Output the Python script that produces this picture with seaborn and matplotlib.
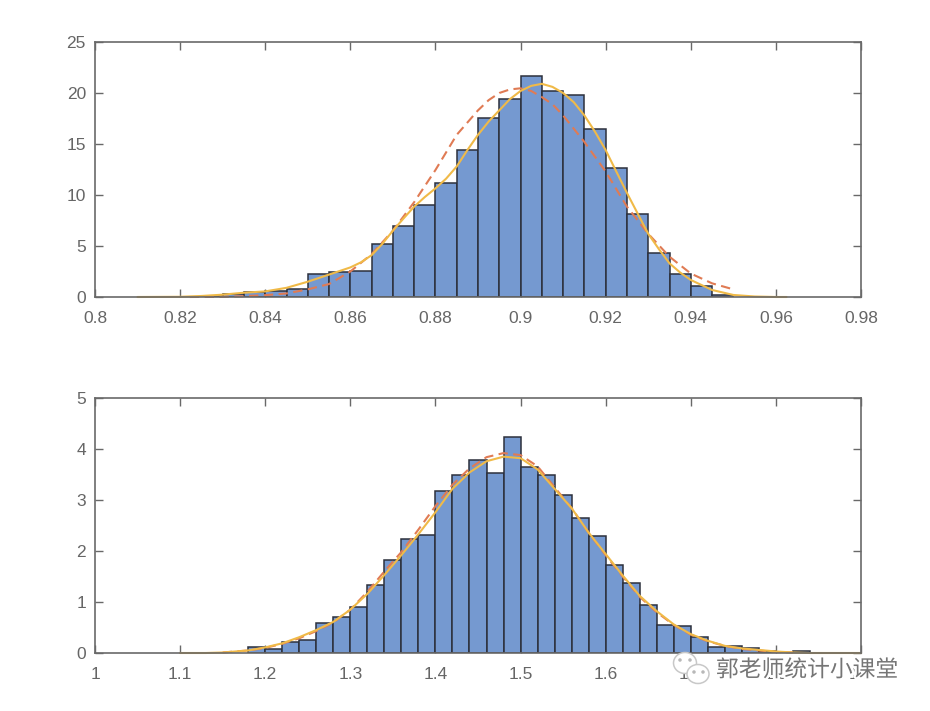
import matplotlib

matplotlib.use("Agg")
import matplotlib.pyplot as plt
import matplotlib.patheffects as pe
from matplotlib.patches import Ellipse
import numpy as np
import seaborn as sns

# --- Colours and sizes ---
BAR_COLOR = "#7599D0"
BAR_EDGE = "#2C303C"
DASH_COLOR = "#E07B54"
SOLID_COLOR = "#F0BA48"
AXIS_COLOR = "#696969"
TEXT_COLOR = "#666666"
TICK_FONTSIZE = 12.5

# Top panel: histogram
top_edges = [0.825, 0.83, 0.835, 0.84, 0.845, 0.85, 0.855, 0.86, 0.865, 0.87, 0.875, 0.88,
             0.885, 0.89, 0.895, 0.90, 0.905, 0.91, 0.915, 0.92, 0.925, 0.93, 0.935, 0.94,
             0.945, 0.95]
top_heights = [0.13, 0.33, 0.49, 0.62, 0.75, 2.22, 2.42, 2.55, 5.2, 6.96, 9.02, 11.2,
               14.44, 17.5, 19.44, 21.67, 20.16, 19.77, 16.47, 12.68, 8.1, 4.31, 2.25,
               1.05, 0.2]

# Top panel: curves
top_solid_x = [0.81, 0.82, 0.825, 0.83, 0.835, 0.84, 0.845, 0.85, 0.855, 0.86, 0.8625, 0.865,
               0.8675, 0.87, 0.8725, 0.875, 0.8775, 0.88, 0.8825, 0.885, 0.8875, 0.89, 0.8925,
               0.895, 0.8975, 0.90, 0.9025, 0.905, 0.9075, 0.91, 0.9125, 0.915, 0.9175, 0.92,
               0.9225, 0.925, 0.9275, 0.93, 0.9325, 0.935, 0.9375, 0.94, 0.945, 0.95, 0.955,
               0.96, 0.9625]
top_solid_y = [0.0, 0.02, 0.1, 0.23, 0.42, 0.55, 0.9, 1.5, 2.2, 2.9, 3.4, 4.1,
               5.2, 6.5, 7.7, 8.86, 9.8, 10.65, 11.6, 12.8, 14.4, 15.9, 17.2,
               18.3, 19.4, 20.2, 20.7, 20.9, 20.6, 20.0, 19.1, 17.8, 16.2, 14.4,
               12.3, 10.2, 8.2, 6.2, 4.7, 3.3, 2.4, 1.67, 0.69, 0.2, 0.05,
               0.0, 0.0]
top_dash_x = [0.8223, 0.83, 0.835, 0.84, 0.845, 0.85, 0.855, 0.86, 0.865, 0.87, 0.875, 0.88,
              0.885, 0.89, 0.8925, 0.895, 0.8975, 0.90, 0.9025, 0.905, 0.9075, 0.91, 0.915,
              0.92, 0.925, 0.93, 0.935, 0.94, 0.945, 0.95]
top_dash_y = [0.0, 0.02, 0.08, 0.18, 0.35, 0.75, 1.27, 2.5, 4.2, 6.5, 9.3, 12.45,
              15.9, 18.3, 19.3, 20.0, 20.35, 20.46, 20.2, 19.6, 18.9, 17.8, 15.2,
              12.3, 8.86, 6.2, 3.95, 2.3, 1.34, 0.75]

# Bottom panel: histogram
bottom_edges = [1.18, 1.20, 1.22, 1.24, 1.26, 1.28, 1.30, 1.32, 1.34, 1.36, 1.38, 1.40, 1.42,
                1.44, 1.46, 1.48, 1.50, 1.52, 1.54, 1.56, 1.58, 1.60, 1.62, 1.64, 1.66, 1.68,
                1.70, 1.72, 1.74, 1.76, 1.78, 1.80, 1.82, 1.84]
bottom_heights = [0.12, 0.08, 0.21, 0.26, 0.595, 0.71, 0.91, 1.33, 1.82, 2.24, 2.32, 3.18, 3.5,
                  3.79, 3.53, 4.24, 3.64, 3.5, 3.09, 2.65, 2.29, 1.73, 1.38, 0.94, 0.555, 0.53,
                  0.32, 0.11, 0.14, 0.09, 0.04, 0.0, 0.03]

# Bottom panel: curves
bottom_solid_x = [1.10, 1.13, 1.15, 1.18, 1.20, 1.22, 1.24, 1.26, 1.28, 1.30, 1.32, 1.34, 1.36,
                  1.38, 1.40, 1.42, 1.44, 1.46, 1.48, 1.50, 1.52, 1.54, 1.56, 1.58, 1.60, 1.62,
                  1.64, 1.66, 1.68, 1.70, 1.72, 1.74, 1.76, 1.78, 1.80, 1.82, 1.84, 1.86, 1.90]
bottom_solid_y = [0.0, 0.0, 0.01, 0.05, 0.11, 0.19, 0.31, 0.45, 0.61, 0.85, 1.16, 1.53, 1.92,
                  2.33, 2.76, 3.22, 3.54, 3.76, 3.85, 3.82, 3.6, 3.22, 2.84, 2.36, 1.94, 1.52,
                  1.12, 0.82, 0.56, 0.37, 0.24, 0.14, 0.09, 0.06, 0.03, 0.01, 0.0, 0.0, 0.0]
bottom_dash_x = [1.15, 1.18, 1.20, 1.22, 1.24, 1.26, 1.28, 1.30, 1.32, 1.34, 1.36, 1.38, 1.40,
                 1.42, 1.44, 1.46, 1.48, 1.50, 1.52, 1.54, 1.56, 1.58, 1.60, 1.62, 1.64, 1.66,
                 1.68, 1.70, 1.72, 1.74, 1.76, 1.78, 1.80, 1.82]
bottom_dash_y = [0.01, 0.05, 0.1, 0.18, 0.29, 0.43, 0.6, 0.85, 1.2, 1.6, 1.98, 2.42, 2.88,
                 3.3, 3.62, 3.84, 3.92, 3.88, 3.66, 3.25, 2.84, 2.36, 1.92, 1.5,
                 1.1, 0.8, 0.55, 0.36, 0.23, 0.14, 0.08, 0.05, 0.02, 0.01]

# Axis ticks
top_xticks = [0.8, 0.82, 0.84, 0.86, 0.88, 0.9, 0.92, 0.94, 0.96, 0.98]
top_xlabels = ["0.8", "0.82", "0.84", "0.86", "0.88", "0.9", "0.92", "0.94", "0.96", "0.98"]
top_yticks = [0, 5, 10, 15, 20, 25]
bottom_xticks = [1.0, 1.1, 1.2, 1.3, 1.4, 1.5, 1.6, 1.7, 1.8, 1.9]
bottom_xlabels = ["1", "1.1", "1.2", "1.3", "1.4", "1.5", "1.6", "1.7", "1.8", "1.9"]
bottom_yticks = [0, 1, 2, 3, 4, 5]

sns.set_style("white")
plt.rcParams["font.family"] = ["Liberation Sans", "DejaVu Sans"]

W, H = 930, 711
fig = plt.figure(figsize=(W / 100, H / 100), dpi=100)
ax_top = fig.add_axes([95 / W, (H - 297) / H, 766 / W, 255 / H])
ax_bottom = fig.add_axes([95 / W, (H - 653) / H, 766 / W, 255 / H])


def draw_panel(ax, edges, heights, solid_x, solid_y, dash_x, dash_y, xlim, ylim,
               xticks, xlabels, yticks):
    centers = (np.array(edges[:-1]) + np.array(edges[1:])) / 2
    sns.histplot(x=centers, weights=heights, bins=edges, color=BAR_COLOR, alpha=1,
                 edgecolor=BAR_EDGE, linewidth=1.1, ax=ax)
    # lines sit under the spines, so the flat tails only peek out below the axis
    sns.lineplot(x=dash_x, y=dash_y, color=DASH_COLOR, linewidth=1.5,
                 linestyle=(0, (4.5, 2.6)), clip_on=False, zorder=2.2, ax=ax)
    sns.lineplot(x=solid_x, y=solid_y, color=SOLID_COLOR, linewidth=1.5,
                 clip_on=False, zorder=2.3, ax=ax)
    ax.set_xlim(*xlim)
    ax.set_ylim(*ylim)
    ax.set_xticks(xticks, xlabels)
    ax.set_yticks(yticks)
    ax.set_ylabel("")
    ax.tick_params(direction="in", length=6, width=1, color=AXIS_COLOR, labelcolor=TEXT_COLOR,
                   labelsize=TICK_FONTSIZE, top=True, right=True, bottom=True, left=True)
    ax.tick_params(axis="x", pad=10)
    ax.tick_params(axis="y", pad=6.5)
    for spine in ax.spines.values():
        spine.set_visible(True)
        spine.set_color(AXIS_COLOR)
        spine.set_linewidth(1.2)


draw_panel(ax_top, top_edges, top_heights, top_solid_x, top_solid_y, top_dash_x, top_dash_y,
           (0.8, 0.98), (0, 25), top_xticks, top_xlabels, top_yticks)
draw_panel(ax_bottom, bottom_edges, bottom_heights, bottom_solid_x, bottom_solid_y, bottom_dash_x,
           bottom_dash_y, (1.0, 1.9), (0, 5), bottom_xticks, bottom_xlabels, bottom_yticks)

# --- Watermark, drawn over the last tick labels as in the source image ---
icon_ax = fig.add_axes([0, 0, 1, 1], facecolor="none")
icon_ax.set_xlim(0, W)
icon_ax.set_ylim(H, 0)
icon_ax.axis("off")
for cx, cy, w, h in [(685, 663, 23, 21), (698, 674, 22, 19)]:
    icon_ax.add_patch(Ellipse((cx, cy), w, h, facecolor="white", edgecolor="#C8C8C8", linewidth=1.1))
for cx, cy in [(680, 660), (690, 660), (694, 672), (703, 672)]:
    icon_ax.add_patch(Ellipse((cx, cy), 3.5, 3.5, facecolor="#B8B8B8", edgecolor="none"))
icon_ax.text(716, 670, "郭老师统计小课堂", family=["Noto Sans CJK SC", "DejaVu Sans"], fontsize=16.4,
             color="#757575", va="center", ha="left",
             path_effects=[pe.withStroke(linewidth=3.5, foreground="white")])

fig.savefig("out.png", dpi=100)
